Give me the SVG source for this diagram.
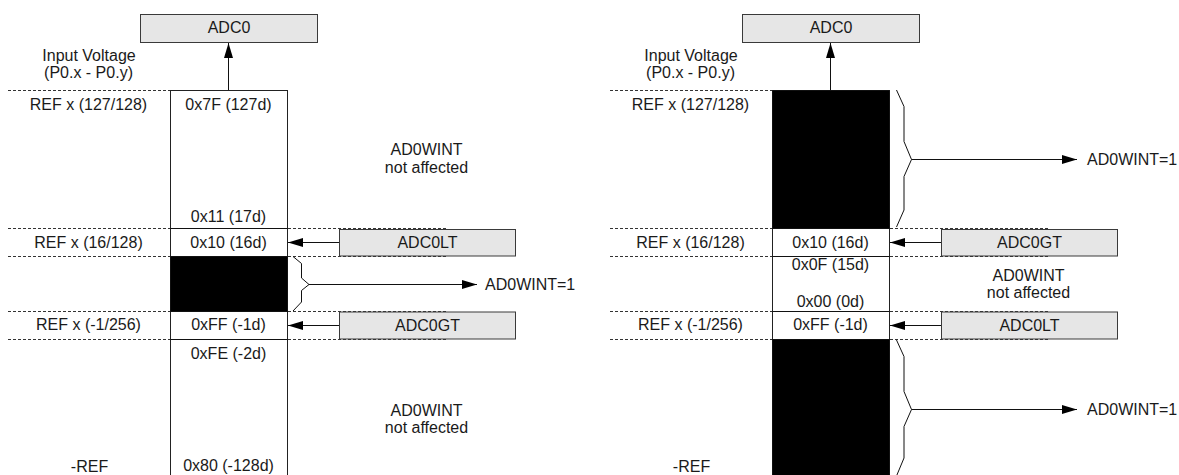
<svg xmlns="http://www.w3.org/2000/svg" width="1179" height="475" viewBox="0 0 1179 475">
  <style>
    .t{font-family:"Liberation Sans",Arial,sans-serif;font-size:16px;fill:#1a1a1a;text-anchor:middle}
    .tl{font-family:"Liberation Sans",Arial,sans-serif;font-size:16px;fill:#1a1a1a;text-anchor:start}
    .box{fill:#e6e6e6;stroke:#3a3a3a;stroke-width:1}
    .col{fill:#fff;stroke:#222;stroke-width:1}
    .blk{fill:#000}
    .dash{stroke:#333;stroke-width:1;stroke-dasharray:3 2;fill:none}
    .ln{stroke:#111;stroke-width:1;fill:none}
    .arr{stroke:#111;stroke-width:1;fill:none;marker-end:url(#ah)}
  </style>
  <defs>
    <marker id="ah" markerUnits="userSpaceOnUse" markerWidth="15" markerHeight="9" refX="15" refY="4.5" orient="auto">
      <path d="M0,0 L15,4.5 L0,9 z" fill="#000"/>
    </marker>
  </defs>

  <!-- level guides -->
  <g id="guides">
    <path class="dash" d="M8,90.5 H170 M8,228.5 H446 M8,256.5 H446 M8,311.5 H446 M8,339.5 H446"/>
    <path class="dash" d="M610,90.5 H772 M610,228.5 H1048 M610,256.5 H1048 M610,311.5 H1048 M610,339.5 H1048"/>
  </g>

  <!-- left: window inside the range -->
  <g id="left-column">
    <rect class="col" x="170.5" y="90.5" width="117" height="400"/>
    <rect class="blk" x="170.5" y="256.5" width="117" height="55"/>
    <path class="ln" d="M170.5,228.5 H287.5 M170.5,256.5 H287.5 M170.5,311.5 H287.5 M170.5,339.5 H287.5"/>
    <text class="t" x="228.5" y="110">0x7F (127d)</text>
    <text class="t" x="228.5" y="221.5">0x11 (17d)</text>
    <text class="t" x="228.5" y="247.5">0x10 (16d)</text>
    <text class="t" x="228.5" y="330">0xFF (-1d)</text>
    <text class="t" x="228.5" y="359">0xFE (-2d)</text>
    <text class="t" x="228.5" y="470.5">0x80 (-128d)</text>
  </g>
  <g id="left-adc0">
    <rect class="box" x="140.5" y="14.5" width="177" height="28"/>
    <text class="t" x="229" y="33">ADC0</text>
  </g>
  <g id="left-adc0lt">
    <rect class="box" x="339.5" y="229.5" width="176" height="26.5"/>
    <text class="t" x="427.5" y="248">ADC0LT</text>
  </g>
  <g id="left-adc0gt">
    <rect class="box" x="339.5" y="312" width="176" height="27"/>
    <text class="t" x="427.5" y="331">ADC0GT</text>
  </g>
  <g id="left-labels">
    <text class="t" x="89" y="61">Input Voltage</text>
    <text class="t" x="88.5" y="78">(P0.x - P0.y)</text>
    <text class="t" x="88.5" y="110">REF x (127/128)</text>
    <text class="t" x="88.5" y="247.5">REF x (16/128)</text>
    <text class="t" x="88.5" y="330">REF x (-1/256)</text>
    <text class="t" x="89.5" y="472">-REF</text>
    <text class="t" x="426.5" y="155">AD0WINT</text>
    <text class="t" x="426.5" y="172.5">not affected</text>
    <text class="t" x="426.5" y="415.5">AD0WINT</text>
    <text class="t" x="426.5" y="433">not affected</text>
    <text class="tl" x="485" y="289.5">AD0WINT=1</text>
  </g>

  <!-- right: window outside the range -->
  <g id="right-column">
    <rect class="col" x="772.5" y="90.5" width="117" height="400"/>
    <rect class="blk" x="772.5" y="90.5" width="117" height="138"/>
    <rect class="blk" x="772.5" y="339.5" width="117" height="140"/>
    <path class="ln" d="M772.5,228.5 H889.5 M772.5,256.5 H889.5 M772.5,311.5 H889.5 M772.5,339.5 H889.5"/>
    <text class="t" x="830.5" y="247.5">0x10 (16d)</text>
    <text class="t" x="830.5" y="270">0x0F (15d)</text>
    <text class="t" x="830.5" y="307">0x00 (0d)</text>
    <text class="t" x="830.5" y="330">0xFF (-1d)</text>
  </g>
  <g id="right-adc0">
    <rect class="box" x="742.5" y="14.5" width="177" height="28"/>
    <text class="t" x="831" y="33">ADC0</text>
  </g>
  <g id="right-adc0gt">
    <rect class="box" x="941.5" y="229.5" width="176" height="26.5"/>
    <text class="t" x="1029.5" y="248">ADC0GT</text>
  </g>
  <g id="right-adc0lt">
    <rect class="box" x="941.5" y="312" width="176" height="27"/>
    <text class="t" x="1029.5" y="331">ADC0LT</text>
  </g>
  <g id="right-labels">
    <text class="t" x="691" y="61">Input Voltage</text>
    <text class="t" x="690.5" y="78">(P0.x - P0.y)</text>
    <text class="t" x="690.5" y="110">REF x (127/128)</text>
    <text class="t" x="690.5" y="247.5">REF x (16/128)</text>
    <text class="t" x="690.5" y="330">REF x (-1/256)</text>
    <text class="t" x="691.5" y="472">-REF</text>
    <text class="t" x="1028.5" y="281">AD0WINT</text>
    <text class="t" x="1028.5" y="297.5">not affected</text>
    <text class="tl" x="1087" y="164.5">AD0WINT=1</text>
    <text class="tl" x="1087" y="414.5">AD0WINT=1</text>
  </g>

  <!-- connectors: input arrows, threshold arrows and braces -->
  <g id="connectors">
    <line class="arr" x1="228.5" y1="90" x2="228.5" y2="43"/>
    <line class="arr" x1="339" y1="242.5" x2="288" y2="242.5"/>
    <line class="arr" x1="339" y1="325.5" x2="288" y2="325.5"/>
    <path class="ln" d="M293,256.5 L301.5,263.5 L301.5,278 L309,284.5 L301.5,290.5 L301.5,302 L293,311"/>
    <line class="arr" x1="309" y1="284.5" x2="477" y2="284.5"/>

    <line class="arr" x1="830.5" y1="90" x2="830.5" y2="43"/>
    <line class="arr" x1="941" y1="242.5" x2="890" y2="242.5"/>
    <line class="arr" x1="941" y1="325.5" x2="890" y2="325.5"/>
    <path class="ln" d="M896.5,90 L904,106.5 L904,141.5 L911.5,159.5 L904,176.5 L904,210 L896.5,227"/>
    <line class="arr" x1="911.5" y1="159.5" x2="1077" y2="159.5"/>
    <path class="ln" d="M896.5,340 L904,356.5 L904,391.5 L911.5,409.5 L904,426.5 L904,458 L896.5,476"/>
    <line class="arr" x1="911.5" y1="409.5" x2="1077" y2="409.5"/>
  </g>
</svg>
